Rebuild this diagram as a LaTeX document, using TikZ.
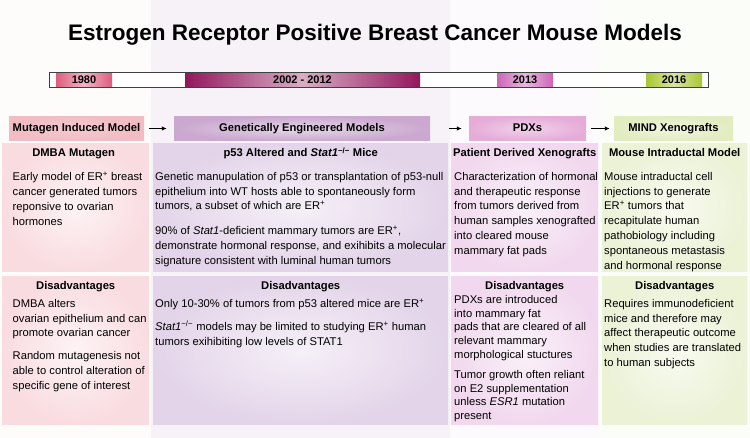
\documentclass[tikz,border=0pt]{standalone}
\usepackage{fontspec}
\setmainfont{Liberation Sans}
\usetikzlibrary{arrows.meta,positioning}

\definecolor{mutHead}{RGB}{241,188,196}
\definecolor{mutPanel}{RGB}{249,220,224}
\definecolor{gemHead}{RGB}{202,168,207}
\definecolor{gemPanel}{RGB}{227,212,233}
\definecolor{pdxHead}{RGB}{230,172,216}
\definecolor{pdxPanel}{RGB}{241,216,238}
\definecolor{mindHead}{RGB}{225,236,192}
\definecolor{mindPanel}{RGB}{235,242,214}
\definecolor{yrA}{RGB}{222,92,126}
\definecolor{yrB}{RGB}{146,22,92}
\definecolor{yrC}{RGB}{204,100,184}
\definecolor{yrD}{RGB}{168,198,50}

\begin{document}
\begin{tikzpicture}[
    x=1pt, y=-1pt,
    colhead/.style={rectangle, minimum height=24.5pt, inner sep=0pt, text height=8pt, text depth=2.3pt, font=\fontsize{11.2}{13}\selectfont\bfseries},
    panel/.style={rectangle, anchor=north west, inner sep=0pt},
    paneltitle/.style={anchor=base, inner sep=0pt, font=\fontsize{11.2}{13}\selectfont\bfseries},
    paneltext/.style={anchor=north west, inner sep=0pt, align=left, font=\fontsize{11.2}{14.8}\selectfont},
    yearseg/.style={rectangle, inner sep=0pt, minimum width=56pt, minimum height=15pt, text height=7.9pt, text depth=0pt, font=\fontsize{11}{12}\selectfont\bfseries},
    arr/.style={-{Latex[length=5pt,width=4.5pt]}, line width=1.2pt}
]
    \useasboundingbox (0,0) rectangle (750,438);
    \fill[white] (0,0) rectangle (750,438);

    % faint column backgrounds
    \fill[mutPanel!12] (0,0) rectangle (151,438);
    \fill[gemPanel!30] (151,0) rectangle (450,438);
    \fill[pdxPanel!12] (450,0) rectangle (600,438);
    \fill[mindPanel!18] (600,0) rectangle (750,438);

    % Title
    \node[anchor=base, inner sep=0pt, font=\fontsize{22.5}{26}\selectfont\bfseries] (title) at (375,40.5) {Estrogen Receptor Positive Breast Cancer Mouse Models};

    % Timeline
    \node[rectangle, anchor=north west, inner sep=0pt, minimum width=659pt, minimum height=15.5pt, fill=white] (bar) at (49,72) {};
    \node[yearseg, left color=yrA, right color=yrA, middle color=yrA!45!white] (y1980) at (84,79.75) {1980};
    \node[yearseg, minimum width=235pt, left color=yrB, right color=yrB, middle color=yrB!35!white] (y2002) at (302.5,79.75) {2002 - 2012};
    \node[yearseg, left color=yrC, right color=yrC, middle color=yrC!45!white] (y2013) at (525,79.75) {2013};
    \node[yearseg, left color=yrD, right color=yrD, middle color=yrD!45!white] (y2016) at (674,79.75) {2016};
    \draw[black!75, line width=0.9pt] (bar.north west) rectangle (bar.south east);

    % Column headers
    \node[colhead, minimum width=135pt, shade, outer color=mutHead, inner color=mutHead!80!white] (mutagen) at (76.5,128.5) {Mutagen Induced Model};
    \node[colhead, minimum width=256pt, shade, outer color=gemHead, inner color=gemHead!45!white] (genetic) at (302,128.5) {Genetically Engineered Models};
    \node[colhead, minimum width=117pt, shade, outer color=pdxHead, inner color=pdxHead!55!white] (pdx) at (527.5,128.5) {PDXs};
    \node[colhead, minimum width=119pt, shade, outer color=mindHead, inner color=mindHead!50!white] (mind) at (673.5,128.5) {MIND Xenografts};

    \draw[arr, shorten <=5pt, shorten >=7pt] (mutagen) -- (genetic);
    \draw[arr, shorten <=19pt, shorten >=7pt] (genetic) -- (pdx);
    \draw[arr, shorten <=5pt, shorten >=4pt] (pdx) -- (mind);

    % Model panels
    \node[panel, minimum width=147pt, minimum height=128pt, shade, outer color=mutPanel, inner color=mutPanel!35!white] (mutTop) at (2,143) {};
    \node[panel, minimum width=295pt, minimum height=128pt, shade, outer color=gemPanel, inner color=gemPanel!35!white] (gemTop) at (153,143) {};
    \node[panel, minimum width=147pt, minimum height=128pt, shade, outer color=pdxPanel, inner color=pdxPanel!35!white] (pdxTop) at (451,143) {};
    \node[panel, minimum width=145pt, minimum height=128pt, shade, outer color=mindPanel, inner color=mindPanel!35!white] (mindTop) at (602,143) {};

    \node[paneltitle] (mutTopTitle) at ([yshift=-14pt,xshift=-2pt]mutTop.north) {DMBA Mutagen};
    \node[paneltitle] (gemTopTitle) at ([yshift=-14pt]gemTop.north) {p53 Altered and \textit{Stat1}\textsuperscript{−/−} Mice};
    \node[paneltitle] (pdxTopTitle) at ([yshift=-14pt]pdxTop.north) {Patient Derived Xenografts};
    \node[paneltitle] (mindTopTitle) at ([yshift=-14pt]mindTop.north) {Mouse Intraductal Model};

    \node[paneltext] (mutTopText) at (12.5,172) {Early model of ER\textsuperscript{+} breast\\cancer generated tumors\\reponsive to ovarian\\hormones};
    \node[paneltext] (gemTopText) at (155,172) {Genetic manupulation of p53 or transplantation of p53-null\\epithelium into WT hosts able to spontaneously form\\tumors, a subset of which are ER\textsuperscript{+}\\[10pt]90\% of \textit{Stat1}-deficient mammary tumors are ER\textsuperscript{+},\\demonstrate hormonal response, and exihibits a molecular\\signature consistent with luminal human tumors};
    \node[paneltext] (pdxTopText) at (454,172) {Characterization of hormonal\\and therapeutic response\\from tumors derived from\\human samples xenografted\\into cleared mouse\\mammary fat pads};
    \node[paneltext] (mindTopText) at (604,172) {Mouse intraductal cell\\injections to generate\\ER\textsuperscript{+} tumors that\\recapitulate human\\pathobiology including\\spontaneous metastasis\\and hormonal response};

    % Disadvantage panels
    \node[panel, minimum width=147pt, minimum height=148pt, shade, outer color=mutPanel, inner color=mutPanel!35!white] (mutBot) at (2,276) {};
    \node[panel, minimum width=295pt, minimum height=148pt, shade, outer color=gemPanel, inner color=gemPanel!35!white] (gemBot) at (153,276) {};
    \node[panel, minimum width=147pt, minimum height=148pt, shade, outer color=pdxPanel, inner color=pdxPanel!35!white] (pdxBot) at (451,276) {};
    \node[panel, minimum width=145pt, minimum height=148pt, shade, outer color=mindPanel, inner color=mindPanel!35!white] (mindBot) at (602,276) {};

    \node[paneltitle] (mutBotTitle) at ([yshift=-13.5pt]mutBot.north) {Disadvantages};
    \node[paneltitle] (gemBotTitle) at ([yshift=-13.5pt]gemBot.north) {Disadvantages};
    \node[paneltitle] (pdxBotTitle) at ([yshift=-13.5pt]pdxBot.north) {Disadvantages};
    \node[paneltitle] (mindBotTitle) at ([yshift=-13.5pt]mindBot.north) {Disadvantages};

    \node[paneltext] (mutBotText) at (12.5,299) {DMBA alters\\ovarian epithelium and can\\promote ovarian cancer\\[8pt]Random mutagenesis not\\able to control alteration of\\specific gene of interest};
    \node[paneltext] (gemBotText) at (155,299) {Only 10-30\% of tumors from p53 altered mice are ER\textsuperscript{+}\\[8pt]\textit{Stat1}\textsuperscript{−/−} models may be limited to studying ER\textsuperscript{+} human\\tumors exihibiting low levels of STAT1};
    \node[paneltext, font=\fontsize{11.2}{13.8}\selectfont] (pdxBotText) at (454,295) {PDXs are introduced\\into mammary fat\\pads that are cleared of all\\relevant mammary\\morphological stuctures\\[6pt]Tumor growth often reliant\\on E2 supplementation\\unless \textit{ESR1} mutation\\present};
    \node[paneltext] (mindBotText) at (604,299) {Requires immunodeficient\\mice and therefore may\\affect therapeutic outcome\\when studies are translated\\to human subjects};
\end{tikzpicture}
\end{document}
